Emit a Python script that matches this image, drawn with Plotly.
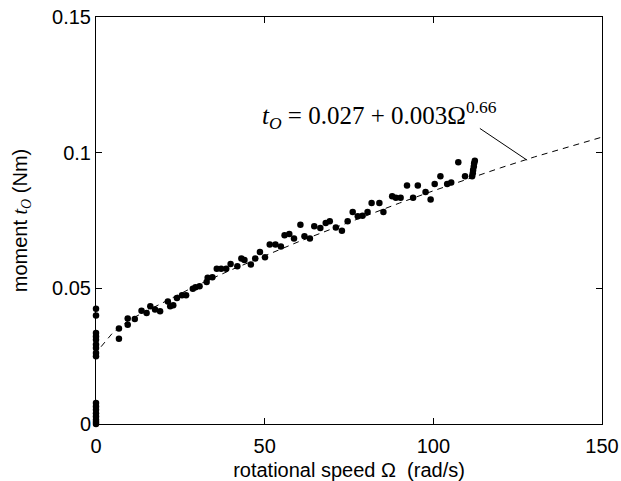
import plotly.graph_objects as go

# --- measured points (rotational speed in rad/s, moment in Nm) ---
speed = [0, 0, 0, 0, 0, 0, 0, 0, 0,
         0, 0, 0, 0, 0, 0, 0, 0,
         6.8, 6.8, 9.4, 9.4, 11.5, 13.5, 15.0, 16.1, 17.5, 19.0,
         21.3, 22.0, 22.9, 24.0, 25.5, 26.7, 28.7, 29.5, 30.7, 32.8,
         33.1, 34.5, 35.8, 37.1, 38.6, 39.9, 41.9, 43.1, 44.0, 45.9,
         47.2, 48.6, 50.1, 51.5, 53.2, 54.8, 55.9, 57.3, 58.7, 60.6,
         61.8, 63.4, 64.7, 66.5, 68.1, 69.3, 71.1, 72.9, 74.6, 76.1,
         77.6, 79.0, 80.5, 81.7, 84.0, 85.2, 87.8, 88.9, 90.3, 92.2,
         94.0, 95.4, 97.7, 99.2, 100.4, 102.1, 104.1, 105.3, 107.4, 109.4,
         111.5, 111.7, 111.8, 112.0, 112.1, 112.3]
moment = [0.0425, 0.0400, 0.0336, 0.0323, 0.0311, 0.0293, 0.0280, 0.0262, 0.0250,
          0.0077, 0.0065, 0.0053, 0.0040, 0.0028, 0.0016, 0.0007, 0.0,
          0.0352, 0.0314, 0.0389, 0.0366, 0.0387, 0.0418, 0.0409, 0.0434, 0.0422, 0.0416,
          0.0452, 0.0434, 0.0438, 0.0465, 0.0475, 0.0475, 0.0499, 0.0504, 0.0508, 0.0524,
          0.0539, 0.0541, 0.0573, 0.0573, 0.0573, 0.0590, 0.0582, 0.0610, 0.0605, 0.0588,
          0.0610, 0.0634, 0.0615, 0.0662, 0.0662, 0.0655, 0.0696, 0.0701, 0.0684, 0.0735,
          0.0692, 0.0684, 0.0729, 0.0723, 0.0741, 0.0748, 0.0725, 0.0713, 0.0748, 0.0782,
          0.0766, 0.0768, 0.0782, 0.0815, 0.0815, 0.0782, 0.0840, 0.0834, 0.0834, 0.0880,
          0.0834, 0.0880, 0.0856, 0.0828, 0.0885, 0.0914, 0.0885, 0.0891, 0.0965, 0.0914,
          0.0914, 0.0925, 0.0937, 0.0950, 0.0962, 0.0971]

# --- fitted curve ---
fit_speed = [1.5, 5, 10, 20, 30, 40, 50, 60, 70, 80, 90, 100, 110, 120, 130, 140, 150]
fit_moment = [0.0285, 0.0337, 0.0385, 0.0450, 0.0512, 0.0568, 0.0621, 0.0672, 0.0720,
              0.0768, 0.0815, 0.0860, 0.0903, 0.0945, 0.0985, 0.1022, 0.1058]

x_ticks = [0, 50, 100, 150]
x_tick_labels = ["0", "50", "100", "150"]
y_ticks = [0, 0.05, 0.1, 0.15]
y_tick_labels = ["0", "0.05", "0.1", "0.15"]

# leader line of the formula label (data coords)
leader = dict(x0=113.8, y0=0.109, x1=127.8, y1=0.0973)

SERIF = "Liberation Serif, Times New Roman, serif"
SANS = "Liberation Sans, Arial, sans-serif"

fig = go.Figure()

fig.add_trace(go.Scatter(
    x=fit_speed, y=fit_moment, mode="lines",
    line=dict(color="black", width=1, dash="6px,5px"),
    showlegend=False, hoverinfo="skip",
))
fig.add_trace(go.Scatter(
    x=speed, y=moment, mode="markers",
    marker=dict(color="black", size=6.5),
    cliponaxis=False, showlegend=False,
))

fig.add_shape(type="line", xref="x", yref="y", **leader,
              line=dict(color="black", width=1))

fig.add_annotation(
    x=48.5, y=0.1138, xref="x", yref="y",
    xanchor="left", yanchor="middle", showarrow=False,
    text="<i>t</i><sub><i>O</i></sub> = 0.027 + 0.003Ω<sup>0.66</sup>",
    font=dict(family=SERIF, size=25, color="black"),
)

axis_common = dict(
    showgrid=False, zeroline=False, automargin=False,
    showline=True, linecolor="black", linewidth=1, mirror="ticks",
    ticks="inside", ticklen=6, tickcolor="black", tickwidth=1,
    tickfont=dict(family=SANS, size=20, color="black"),
)

fig.update_xaxes(
    range=[0, 150], tickvals=x_ticks, ticktext=x_tick_labels,
    ticklabelstandoff=4,
    title=dict(text="rotational speed Ω  (rad/s)",
               font=dict(family=SANS, size=20, color="black"), standoff=11),
    **axis_common,
)
fig.update_yaxes(
    range=[0, 0.1501], tickvals=y_ticks, ticktext=y_tick_labels,
    title=dict(text="moment <span style='font-family:Liberation Serif'><i>t</i><sub><i>O</i></sub></span> (Nm)",
               font=dict(family=SANS, size=20, color="black"), standoff=19),
    **axis_common,
)

fig.update_layout(
    template="none",
    width=621, height=481,
    margin=dict(l=96, r=19, t=17, b=57),
    paper_bgcolor="white", plot_bgcolor="white",
    showlegend=False,
)

# drop the browser's default 8 px body margin so the figure fills the window
fig.write_html("out.html", config={"displayModeBar": False},
               post_script="document.body.style.margin='0';")
